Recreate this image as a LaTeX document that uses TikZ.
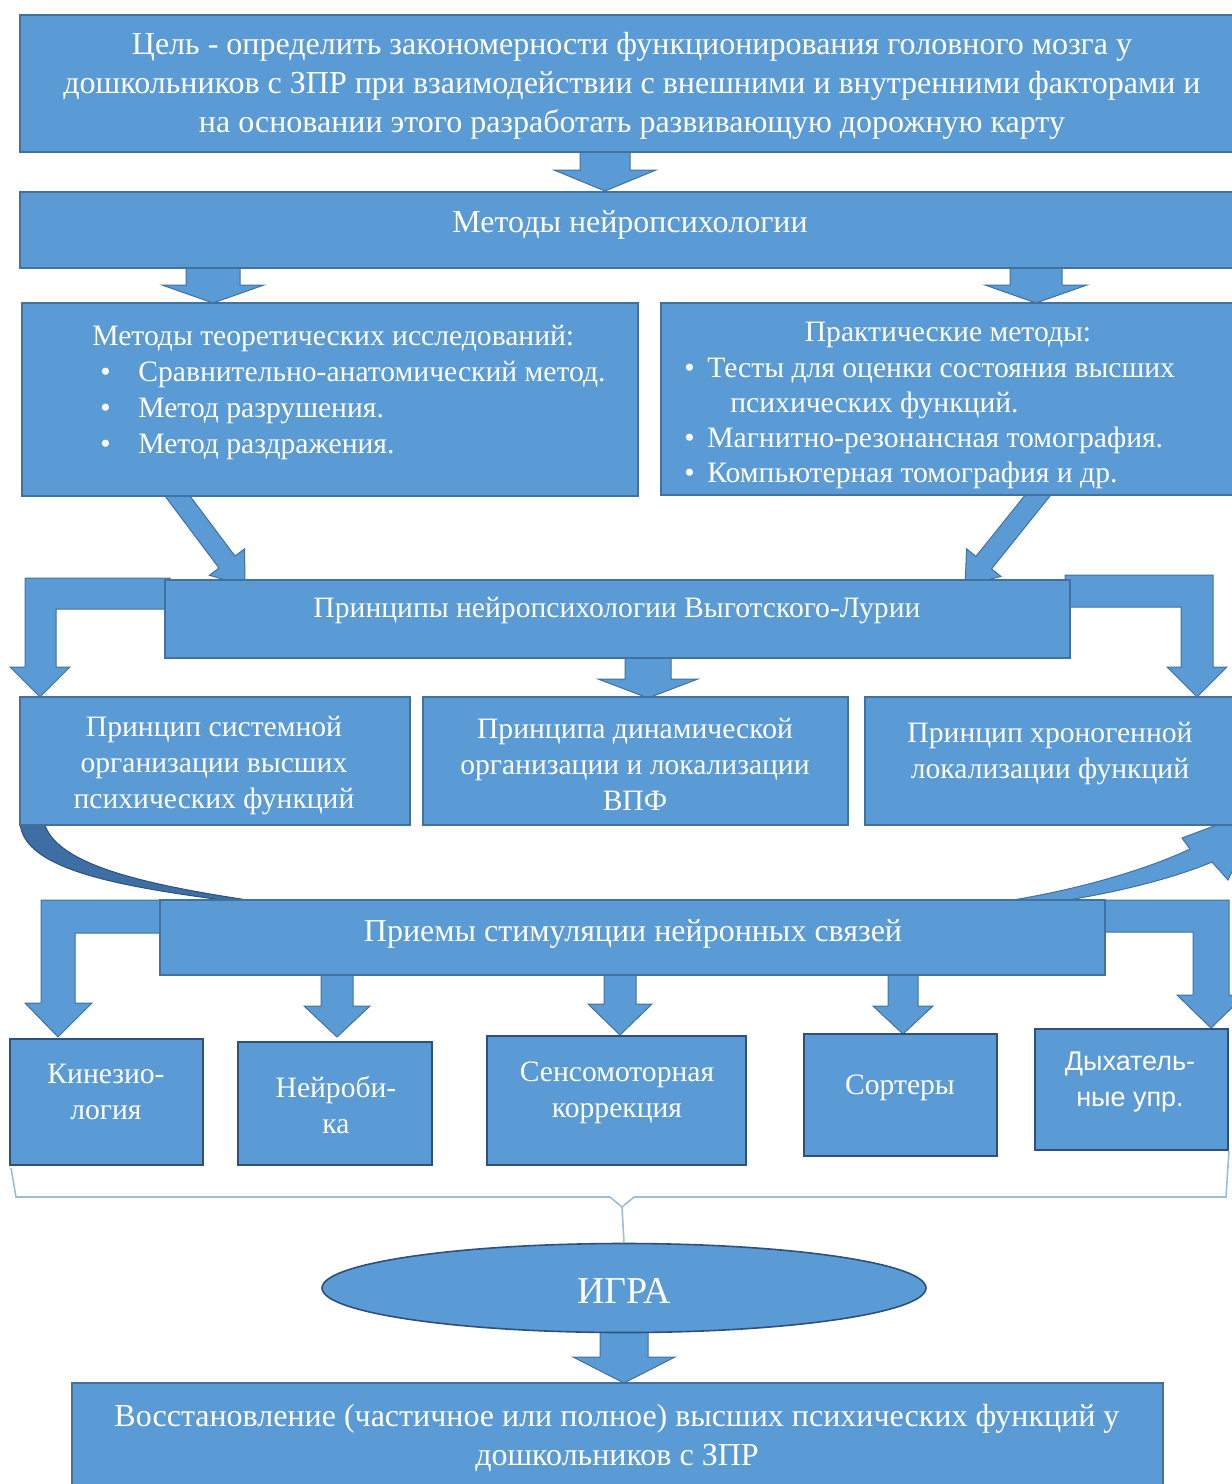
\documentclass[tikz,border=0pt]{standalone}
\usepackage{fontspec}
\setmainfont{Liberation Serif}
\newfontfamily\arialf{Liberation Sans}
\usetikzlibrary{shapes.geometric,fit,calc}
\definecolor{boxblue}{HTML}{5B9BD5}
\definecolor{edgeblue}{HTML}{41719C}
\definecolor{darkedge}{HTML}{2F4F7F}
\definecolor{curveblue}{HTML}{3D6FA5}
\definecolor{bracecol}{HTML}{9DBBDD}
\newcommand\dnarrow[6]{% x, ytop, yhead, ytip, shaft half, head half
  \path[barrow] (#1-#5,#2) -- (#1+#5,#2) -- (#1+#5,#3) -- (#1+#6,#3) -- (#1,#4)
    -- (#1-#6,#3) -- (#1-#5,#3) -- cycle;}
\newcommand\diagarrow[4]{%
  \coordinate (da1) at (#1); \coordinate (da2) at (#2);
  \coordinate (dah) at ($(da2)!#3!(da1)$);
  \path[barrow] ($(da1)!5pt!90:(da2)$) -- ($(dah)!5pt!-90:(da1)$) -- ($(dah)!#4!-90:(da1)$)
    -- (da2) -- ($(dah)!#4!90:(da1)$) -- ($(dah)!5pt!90:(da1)$) -- ($(da1)!5pt!-90:(da2)$) -- cycle;}
\begin{document}
\begin{tikzpicture}[x=0.5pt,y=-0.5pt,
  box/.style={fill=boxblue,draw=edgeblue,line width=0.6pt,inner sep=0pt},
  sbox/.style={fill=boxblue,draw=darkedge,line width=1pt,inner sep=0pt},
  bigtxt/.style={text=white,inner sep=0pt,font=\fontsize{16}{19.5}\selectfont,align=center},
  txt/.style={text=white,inner sep=0pt,font=\fontsize{14.8}{18}\selectfont,align=center},
  ltxt/.style={text=white,inner sep=0pt,font=\fontsize{14.8}{18}\selectfont,align=left},
  barrow/.style={fill=boxblue,draw=edgeblue,line width=0.5pt,line join=miter},
  crescent/.style={fill=curveblue,draw=darkedge,line width=0.5pt},
  bracket/.style={draw=bracecol,line width=0.8pt},
]
\useasboundingbox (0,0) rectangle (1232,1484);
\clip (0,0) rectangle (1232,1484);

% ---- arrows behind boxes ----
\dnarrow{605}{150}{170}{191}{25}{51}
\dnarrow{213}{266}{285}{303}{27}{51}
\dnarrow{1036}{266}{285}{303}{26}{51}
\diagarrow{173,490}{245,586}{15pt}{11pt}
\diagarrow{1042,490}{965,586}{15pt}{11pt}
% bent arrows principles
\path[barrow] (170,578) -- (25,578) -- (25,667) -- (10,667) -- (40,697) -- (70,667) -- (56,667) -- (56,609) -- (170,609) -- cycle;
\path[barrow] (1065,575) -- (1213,575) -- (1213,667) -- (1227,667) -- (1197,697) -- (1167,667) -- (1181,667) -- (1181,607) -- (1065,607) -- cycle;
\dnarrow{648}{655}{679}{698}{23}{50}
% curved arrow (left crescent and right part)
\path[crescent] (20,822) .. controls (22,872) and (130,888) .. (245,903) -- (268,903) .. controls (150,886) and (55,866) .. (44,822) -- cycle;
\path[barrow] (1000,902) .. controls (1080,890) and (1150,868) .. (1190,849) -- (1182,838) -- (1262,808) -- (1228,880) -- (1212,862) .. controls (1160,884) and (1080,900) .. (1030,905) -- cycle;
% bent arrows priemy
\path[barrow] (165,900) -- (41,900) -- (41,1003) -- (25,1003) -- (58,1037) -- (92,1003) -- (75,1003) -- (75,933) -- (165,933) -- cycle;
\path[barrow] (1100,900) -- (1229,900) -- (1229,995) -- (1245,995) -- (1211,1028) -- (1177,995) -- (1193,995) -- (1193,932) -- (1100,932) -- cycle;
\dnarrow{337}{972}{1006}{1037}{16}{33}
\dnarrow{620}{972}{1004}{1035}{16}{32}
\dnarrow{903}{972}{1006}{1034}{15}{30}
\dnarrow{624}{1325}{1357}{1383}{24}{51}

% ---- boxes ----
\node[box,fit={(20,15) (1240,152)}] (goal) {};
\node[bigtxt] (goalt) at (632,86) {Цель - определить закономерности функционирования головного мозга у\\дошкольников с ЗПР при взаимодействии с внешними и внутренними факторами и\\на основании этого разработать развивающую дорожную карту};
\node[box,fit={(20,192) (1240,268)}] (meth) {};
\node[bigtxt] (metht) at (630,225) {Методы нейропсихологии};
\node[box,fit={(22,303) (638,496)}] (theo) {};
\node[ltxt,anchor=north west] (theot) at (92,325) {Методы теоретических исследований:\\
\makebox[23pt][l]{\hspace{4pt}•}Сравнительно-анатомический метод.\\
\makebox[23pt][l]{\hspace{4pt}•}Метод разрушения.\\
\makebox[23pt][l]{\hspace{4pt}•}Метод раздражения.};
\node[box,fit={(661,303) (1240,495)}] (prac) {};
\node[txt] (pract) at (948,335) {Практические методы:};
\node[ltxt,anchor=north west,font=\fontsize{14.8}{17.5}\selectfont] (pracl) at (684,358) {\makebox[11.5pt][l]{•}Тесты для оценки состояния высших\\
\hspace*{23pt}психических функций.\\
\makebox[11.5pt][l]{•}Магнитно-резонансная томография.\\
\makebox[11.5pt][l]{•}Компьютерная томография и др.};

\node[box,fit={(165,580) (1070,658)}] (princ) {};
\node[txt] (princt) at (617,611) {Принципы нейропсихологии Выготского-Лурии};

\node[box,fit={(20,697) (410,825)}] (pa) {};
\node[txt] (pat) at (214,766) {Принцип системной\\организации высших\\психических функций};
\node[box,fit={(423,697) (848,825)}] (pb) {};
\node[txt] (pbt) at (635,764) {Принципа динамической\\организации и локализации\\ВПФ};
\node[box,fit={(865,697) (1240,825)}] (pc) {};
\node[txt] (pct) at (1050,754) {Принцип хроногенной\\локализации функций};

\node[box,fit={(160,900) (1105,975)}] (priem) {};
\node[bigtxt] (priemt) at (633,934) {Приемы стимуляции нейронных связей};

\node[sbox,fit={(10,1039) (203,1165)}] (k1) {};
\node[txt] (k1t) at (106,1092) {Кинезио-\\логия};
\node[sbox,fit={(238,1042) (432,1165)}] (k2) {};
\node[txt] (k2t) at (336,1105) {Нейроби-\\ка};
\node[sbox,fit={(487,1036) (746,1165)}] (k3) {};
\node[txt] (k3t) at (617,1093) {Сенсомоторная\\коррекция};
\node[sbox,fit={(804,1034) (997,1156)}] (k4) {};
\node[txt] (k4t) at (900,1088) {Сортеры};
\node[sbox,fit={(1035,1029) (1228,1150)}] (k5) {};
\node[txt,font=\arialf\fontsize{13.5}{18}\selectfont] (k5t) at (1130,1082) {Дыхатель-\\ные упр.};

% ---- brace and game ----
\node[ellipse,fill=boxblue,draw=darkedge,line width=0.8pt,minimum width=302pt,minimum height=44.5pt,inner sep=0pt] (igra) at (624,1288) {};
\node[txt,font=\fontsize{19}{21}\selectfont] (igrat) at (624,1291) {ИГРА};
\draw[bracket] (k1.south west) ++(2,2) -- (16,1197) -- (610,1197) -- (622,1207) -- (igra.north);
\draw[bracket] (622,1207) -- (634,1197) -- (1226,1197) -- (k5.south east);

\node[box,fit={(72,1383) (1163,1495)}] (res) {};
\node[bigtxt] (rest) at (617,1438) {Восстановление (частичное или полное) высших психических функций у\\дошкольников с ЗПР};
\end{tikzpicture}
\end{document}
